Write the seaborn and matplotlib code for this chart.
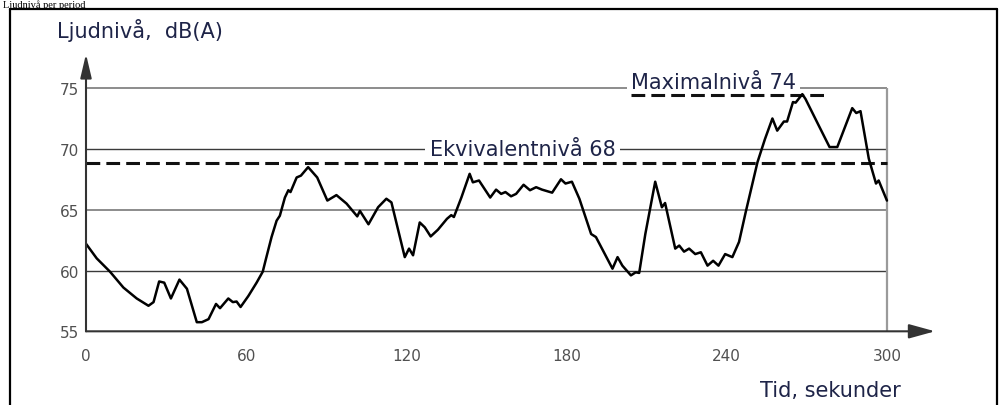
import numpy as np
import pandas as pd
import seaborn as sns
import matplotlib
matplotlib.use("Agg")
from matplotlib import pyplot as plt
from matplotlib.lines import Line2D

# sound level trace (time in s, level in dB(A))
tid = [0, 4, 9, 14, 19, 23.4, 25.3, 27.4, 29.3, 31.8, 35, 37.8, 41.5, 43.4, 45.9, 48.7,
       50.2, 53.3, 55, 56.4, 57.9, 60.8, 63.9, 66.2, 67.4, 69.5, 71.4, 72.6, 74.5, 75.8,
       76.6, 78.9, 80.5, 83.2, 86.6, 90.4, 93.8, 97.6, 101.6, 102.6, 105.8, 109.4, 112.5,
       114.4, 119.4, 121, 122.5, 125, 126.9, 129.1, 131.8, 135.2, 136.8, 137.8, 140.6,
       143.7, 144.9, 147.2, 151.4, 153.6, 155.5, 157.1, 159.2, 161.1, 163.9, 166.3, 168.6,
       170.8, 174.6, 177.9, 179.6, 182, 184.8, 189.2, 191, 197.2, 199.1, 200.9, 204.1,
       205.9, 207.2, 209.5, 213.2, 215.7, 216.9, 220.7, 222.2, 224, 225.9, 228.2, 230.3,
       232.8, 234.9, 236.9, 239.4, 242.1, 244.6, 247.1, 251.5, 254.3, 257.1, 258.9, 261.4,
       262.6, 264.8, 265.8, 268.3, 269.5, 274.5, 278.5, 281.4, 287, 288.5, 290.1, 293.2,
       295.9, 296.9, 300]
niva = [62.2, 61.0, 59.9, 58.6, 57.7, 57.1, 57.4, 59.1, 59.0, 57.7, 59.25, 58.5, 55.75,
        55.75, 56.0, 57.25, 56.9, 57.7, 57.4, 57.45, 57.0, 57.9, 59.0, 59.9, 60.95, 62.75,
        64.1, 64.5, 66.0, 66.6, 66.45, 67.65, 67.8, 68.5, 67.65, 65.75, 66.2, 65.5, 64.45,
        64.9, 63.8, 65.2, 65.9, 65.6, 61.1, 61.8, 61.25, 63.95, 63.55, 62.8, 63.35, 64.25,
        64.55, 64.4, 66.0, 67.95, 67.25, 67.4, 66.0, 66.65, 66.3, 66.45, 66.1, 66.3, 67.05,
        66.6, 66.85, 66.65, 66.4, 67.5, 67.15, 67.3, 65.9, 63.0, 62.75, 60.15, 61.1, 60.4,
        59.6, 59.85, 59.8, 63.0, 67.3, 65.2, 65.55, 61.8, 62.05, 61.55, 61.8, 61.35, 61.5,
        60.4, 60.8, 60.4, 61.35, 61.1, 62.35, 64.8, 68.9, 70.8, 72.5, 71.5, 72.25, 72.25,
        73.85, 73.8, 74.5, 74.1, 71.9, 70.15, 70.15, 73.35, 72.95, 73.1, 69.2, 67.15, 67.4,
        65.75]

grid_dark = [60, 70]
grid_light = [65, 75]
ekv_niva = 68.85
max_niva = 74.4
max_span = [204.2, 276.4]
yticks = [55, 60, 65, 70, 75]
xticks_major = [0, 60, 120, 180, 240, 300]
xticks_minor = [30, 60, 90, 120, 150, 180, 210, 240, 270]

df = pd.DataFrame({"Tid": tid, "Niva": niva})

sns.set_style("white")
plt.rcParams["font.family"] = ["DejaVu Sans"]

fig = plt.figure(figsize=(10.01, 4.06), dpi=100)
ax = fig.add_axes([86 / 1001, 0.1815, (935 - 86) / 1001, 0.683])
ax.set_xlim(0, 318)
ax.set_ylim(55, 77.8)
for s in ax.spines.values():
    s.set_visible(False)

# grid lines
ax.hlines(grid_dark, 0, 300, color="#3a3a3a", lw=1.0, zorder=1)
ax.hlines(grid_light, 0, 300, color="#8c8c8c", lw=1.4, zorder=1)
ax.vlines(300, 55, 75, color="#9a9a9a", lw=1.6, zorder=1)

# reference levels
ax.hlines(ekv_niva, 0, 300, color="#111111", lw=2.2, linestyles=(0, (4.5, 2)), zorder=4)
ax.hlines(max_niva, max_span[0], max_span[1], color="#111111", lw=2.2,
          linestyles=(0, (4.5, 2)), zorder=4)

sns.lineplot(data=df, x="Tid", y="Niva", ax=ax, color="black", lw=1.8, zorder=5)

txtcol = "#1e2448"
ax.text(128.7, 70, "Ekvivalentnivå 68", fontsize=15, color=txtcol, ha="left",
        va="center", zorder=3,
        bbox=dict(facecolor="white", edgecolor="none", pad=3))
ax.text(204.2, 75, "Maximalnivå 74", fontsize=15, color=txtcol, ha="left",
        va="baseline", zorder=3,
        bbox=dict(facecolor="white", edgecolor="none", pad=3))

# axes with arrow heads
ax.annotate("", xy=(318, 55), xytext=(0, 55), annotation_clip=False,
            arrowprops=dict(arrowstyle="-|>,head_length=0.8,head_width=0.22",
                            mutation_scale=20, color="#333333", lw=1.5,
                            shrinkA=0, shrinkB=0), zorder=6)
ax.annotate("", xy=(0, 77.8), xytext=(0, 55), annotation_clip=False,
            arrowprops=dict(arrowstyle="-|>,head_length=0.72,head_width=0.17",
                            mutation_scale=20, color="#333333", lw=1.5,
                            shrinkA=0, shrinkB=0), zorder=6)

ax.set_yticks(yticks)
ax.set_yticklabels([str(v) for v in yticks])
ax.set_xticks(xticks_major)
ax.set_xticklabels([str(v) for v in xticks_major])
ax.set_xticks(xticks_minor, minor=True)
ax.tick_params(axis="y", length=0, pad=5, labelsize=11, labelcolor="#505050")
ax.tick_params(axis="x", which="major", length=0, pad=12, labelsize=11, labelcolor="#505050")
ax.tick_params(axis="x", which="minor", length=11, width=1.4, direction="inout", color="#333333")
ax.set_xlabel("")
ax.set_ylabel("")

fig.text(57 / 1001, 1 - 30 / 406, "Ljudnivå,  dB(A)", fontsize=15, color=txtcol,
         ha="left", va="center")
fig.text(760 / 1001, 1 - 391 / 406, "Tid, sekunder", fontsize=15, color=txtcol,
         ha="left", va="center")

# heading of the page above the frame (kept small so it fits in the strip)
fig.text(3 / 1001, 1 - 0.5 / 406, "Ljudnivå per period", fontsize=7.5, color="black",
         family=["Liberation Serif"], ha="left", va="top")

# outer frame
fr = dict(color="black", lw=1.6, transform=fig.transFigure)
fig.add_artist(Line2D([10 / 1001, 997 / 1001], [1 - 10 / 406, 1 - 10 / 406], **fr))
fig.add_artist(Line2D([10 / 1001, 10 / 1001], [1 - 10 / 406, 0], **fr))
fig.add_artist(Line2D([997 / 1001, 997 / 1001], [1 - 10 / 406, 0], **fr))

fig.savefig("out.png", dpi=100)
